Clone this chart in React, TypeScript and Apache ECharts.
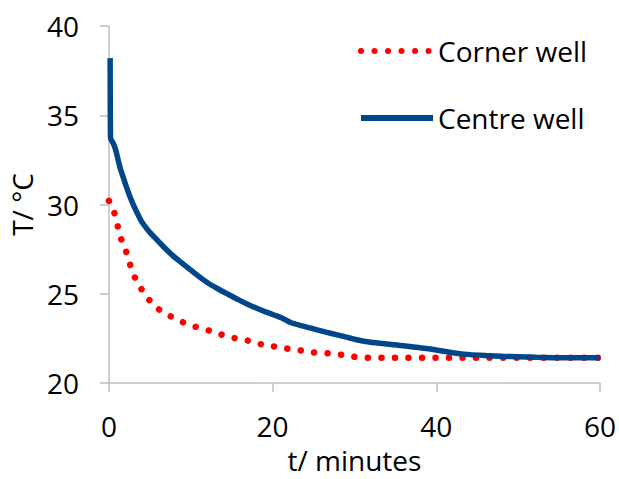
import React, { useEffect, useRef } from "react";
import * as echarts from "echarts";

const xTicks = [0, 20, 40, 60];
const yTicks = [20, 25, 30, 35, 40];

const cornerT = [0, 0.5, 0.9, 1.2, 1.6, 2.1, 2.4, 2.7, 3.2, 3.8, 4.6, 5.7, 7.0, 8.3, 9.6, 11.1, 12.5, 14.0, 15.5, 17.0, 18.5, 20.0, 21.6, 23.3, 24.9, 26.6, 28.2, 29.7, 31.3, 35, 40, 45, 50, 55, 60];
const cornerTemp = [30.2, 29.74, 29.17, 28.52, 27.93, 27.37, 26.91, 26.48, 25.89, 25.39, 24.83, 24.28, 23.85, 23.59, 23.28, 23.09, 22.9, 22.68, 22.5, 22.37, 22.18, 22.06, 21.94, 21.83, 21.72, 21.67, 21.59, 21.48, 21.42, 21.41, 21.41, 21.41, 21.41, 21.41, 21.41];

const centreT = [0.15, 0.16, 0.18, 0.2, 0.5, 0.8, 1.1, 1.4, 1.8, 2.2, 2.6, 3.0, 3.5, 4.0, 4.8, 5.7, 6.7, 7.7, 8.7, 9.7, 10.9, 12.1, 13.3, 14.6, 15.8, 17.0, 18.2, 19.4, 21.0, 22.2, 23.6, 25.1, 26.5, 27.9, 30.0, 32.0, 34.0, 36.0, 38.0, 40.0, 42.0, 44.1, 46.1, 48.1, 50.1, 52.2, 54.2, 56.2, 58.1, 60];
const centreTemp = [38.2, 36.3, 34.5, 33.7, 33.45, 33.1, 32.55, 32.0, 31.45, 30.9, 30.4, 29.96, 29.48, 29.04, 28.55, 28.1, 27.62, 27.18, 26.8, 26.44, 26.0, 25.6, 25.28, 24.96, 24.67, 24.4, 24.16, 23.94, 23.67, 23.39, 23.2, 23.02, 22.85, 22.7, 22.45, 22.28, 22.18, 22.09, 21.97, 21.85, 21.7, 21.59, 21.54, 21.5, 21.47, 21.44, 21.42, 21.41, 21.41, 21.41];

const FONT = "Open Sans";

export default function App() {
  const ref = useRef<HTMLDivElement>(null);
  useEffect(() => {
    if (!ref.current) return;
    const chart = echarts.init(ref.current, null, { renderer: "svg" });
    const axisGray = "#bfbfbf";
    chart.setOption({
      animation: false,
      backgroundColor: "#ffffff",
      textStyle: { fontFamily: FONT },
      grid: { left: 106.7, right: 18, top: 26, bottom: 93, containLabel: false },
      legend: {
        orient: "vertical",
        left: 358,
        top: 36,
        padding: 0,
        itemWidth: 72,
        itemHeight: 10,
        itemGap: 37,
        itemStyle: { color: "rgba(0,0,0,0)", borderWidth: 0 },
        lineStyle: { width: 6 },
        textStyle: { fontFamily: FONT, fontSize: 28, color: "#000", lineHeight: 30 },
        data: ["Corner well", "Centre well"],
      },
      xAxis: {
        type: "value",
        min: 0,
        max: 60,
        interval: 20,
        name: "t/ minutes",
        nameLocation: "middle",
        nameGap: 63,
        nameTextStyle: { fontFamily: FONT, fontSize: 28, color: "#000" },
        axisLine: { show: true, lineStyle: { color: axisGray, width: 1.5 } },
        axisTick: { show: true, inside: false, length: 9, lineStyle: { color: axisGray, width: 1.5 } },
        axisLabel: {
          fontFamily: FONT,
          fontSize: 28,
          color: "#000",
          margin: 29,
          formatter: (v: number) => (xTicks.includes(v) ? String(v) : ""),
        },
        splitLine: { show: false },
      },
      yAxis: {
        type: "value",
        min: 20,
        max: 40,
        interval: 5,
        name: "T/ °C",
        nameLocation: "middle",
        nameGap: 68,
        nameRotate: 90,
        nameTextStyle: { fontFamily: FONT, fontSize: 28, color: "#000" },
        axisLine: { show: true, lineStyle: { color: axisGray, width: 1.5 } },
        axisTick: { show: true, inside: false, length: 9, lineStyle: { color: axisGray, width: 1.5 } },
        axisLabel: {
          fontFamily: FONT,
          fontSize: 28,
          color: "#000",
          margin: 30,
          formatter: (v: number) => (yTicks.includes(v) ? String(v) : ""),
        },
        splitLine: { show: false },
      },
      series: [
        {
          name: "Corner well",
          type: "line",
          symbol: "none",
          showSymbol: false,
          smooth: 0.3,
          color: "#ff0000",
          lineStyle: { color: "#ff0000", width: 6.5, type: [0.01, 13.5], cap: "round" },
          data: cornerT.map((t, i) => [t, cornerTemp[i]]),
          z: 2,
        },
        {
          name: "Centre well",
          type: "line",
          symbol: "none",
          showSymbol: false,
          smooth: 0.2,
          color: "#00468b",
          lineStyle: { color: "#00468b", width: 5.5 },
          data: centreT.map((t, i) => [t, centreTemp[i]]),
          z: 3,
        },
      ],
    });
    return () => chart.dispose();
  }, []);
  return (
    <div
      ref={ref}
      style={{ position: "fixed", left: 0, top: 0, width: 619, height: 479, background: "#fff" }}
    />
  );
}
